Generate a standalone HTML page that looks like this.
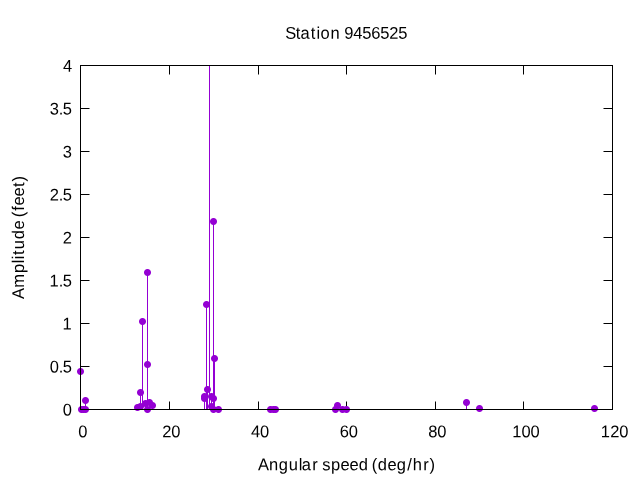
<!DOCTYPE html>
<html lang="en"><head><meta charset="utf-8"><title>Station 9456525</title>
<style>html,body{margin:0;padding:0;background:#fff;}body{width:640px;height:480px;overflow:hidden;}svg{display:block;}text{font-family:"Liberation Sans",sans-serif;font-size:16.5px;fill:#000;}</style></head><body>
<svg width="640" height="480" viewBox="0 0 640 480">
<rect x="0" y="0" width="640" height="480" fill="#ffffff"/>
<path d="M80.5 409.5h9M612.5 409.5h-9M80.5 366.5h9M612.5 366.5h-9M80.5 323.5h9M612.5 323.5h-9M80.5 280.5h9M612.5 280.5h-9M80.5 237.5h9M612.5 237.5h-9M80.5 194.5h9M612.5 194.5h-9M80.5 151.5h9M612.5 151.5h-9M80.5 108.5h9M612.5 108.5h-9M80.5 65.5h9M612.5 65.5h-9M80.5 409.5v-8M80.5 65.5v9M169.5 409.5v-8M169.5 65.5v9M258.5 409.5v-8M258.5 65.5v9M346.5 409.5v-8M346.5 65.5v9M435.5 409.5v-8M435.5 65.5v9M523.5 409.5v-8M523.5 65.5v9M612.5 409.5v-8M612.5 65.5v9" stroke="#000" stroke-width="1" fill="none"/>
<path d="M80.5 409.5V371.5M85.5 409.5V400.5M137.5 409.5V407.5M140.5 409.5V392.5M140.5 409.5V406.5M142.5 409.5V321.5M145.5 409.5V403.5M147.5 409.5V364.5M147.5 409.5V272.5M149.5 409.5V402.5M152.5 409.5V405.5M204.5 409.5V396.5M204.5 409.5V398.5M206.5 409.5V304.5M207.5 409.5V389.5M209.5 409.5V65.5M211.5 409.5V406.5M211.5 409.5V396.5M213.5 409.5V398.5M213.5 409.5V221.5M214.5 409.5V358.5M337.5 409.5V405.5M466.5 409.5V402.5M479.5 409.5V408.5M594.5 409.5V408.5" stroke="#9400d3" stroke-width="1" fill="none"/>
<defs><g id="pt"><rect x="-2" y="-2" width="5" height="1"/><rect x="-2" y="-1" width="5" height="1"/><rect x="-2" y="0" width="5" height="1"/><rect x="-2" y="1" width="5" height="1"/><rect x="-2" y="2" width="5" height="1"/><rect x="-3" y="-2" width="1" height="1" fill-opacity="0.352"/><rect x="-3" y="-1" width="1" height="1" fill-opacity="0.841"/><rect x="-3" y="0" width="1" height="1" fill-opacity="0.988"/><rect x="-3" y="1" width="1" height="1" fill-opacity="0.841"/><rect x="-3" y="2" width="1" height="1" fill-opacity="0.352"/><rect x="-2" y="-3" width="1" height="1" fill-opacity="0.352"/><rect x="-2" y="3" width="1" height="1" fill-opacity="0.352"/><rect x="-1" y="-3" width="1" height="1" fill-opacity="0.841"/><rect x="-1" y="3" width="1" height="1" fill-opacity="0.841"/><rect x="0" y="-3" width="1" height="1" fill-opacity="0.988"/><rect x="0" y="3" width="1" height="1" fill-opacity="0.988"/><rect x="1" y="-3" width="1" height="1" fill-opacity="0.841"/><rect x="1" y="3" width="1" height="1" fill-opacity="0.841"/><rect x="2" y="-3" width="1" height="1" fill-opacity="0.352"/><rect x="2" y="3" width="1" height="1" fill-opacity="0.352"/><rect x="3" y="-2" width="1" height="1" fill-opacity="0.352"/><rect x="3" y="-1" width="1" height="1" fill-opacity="0.841"/><rect x="3" y="0" width="1" height="1" fill-opacity="0.988"/><rect x="3" y="1" width="1" height="1" fill-opacity="0.841"/><rect x="3" y="2" width="1" height="1" fill-opacity="0.352"/></g></defs>
<g fill="#9400d3">
<use href="#pt" x="80" y="371"/>
<use href="#pt" x="81" y="409"/>
<use href="#pt" x="83" y="409"/>
<use href="#pt" x="85" y="409"/>
<use href="#pt" x="85" y="400"/>
<use href="#pt" x="137" y="407"/>
<use href="#pt" x="140" y="392"/>
<use href="#pt" x="140" y="406"/>
<use href="#pt" x="142" y="321"/>
<use href="#pt" x="145" y="403"/>
<use href="#pt" x="147" y="364"/>
<use href="#pt" x="147" y="409"/>
<use href="#pt" x="147" y="272"/>
<use href="#pt" x="149" y="402"/>
<use href="#pt" x="152" y="405"/>
<use href="#pt" x="204" y="396"/>
<use href="#pt" x="204" y="398"/>
<use href="#pt" x="206" y="304"/>
<use href="#pt" x="207" y="389"/>
<use href="#pt" x="211" y="406"/>
<use href="#pt" x="211" y="396"/>
<use href="#pt" x="213" y="398"/>
<use href="#pt" x="213" y="221"/>
<use href="#pt" x="213" y="409"/>
<use href="#pt" x="214" y="358"/>
<use href="#pt" x="218" y="409"/>
<use href="#pt" x="270" y="409"/>
<use href="#pt" x="273" y="409"/>
<use href="#pt" x="275" y="409"/>
<use href="#pt" x="335" y="409"/>
<use href="#pt" x="337" y="405"/>
<use href="#pt" x="342" y="409"/>
<use href="#pt" x="346" y="409"/>
<use href="#pt" x="466" y="402"/>
<use href="#pt" x="479" y="408"/>
<use href="#pt" x="594" y="408"/>
</g>
<rect x="80.5" y="65.5" width="532.0" height="344.0" fill="none" stroke="#000" stroke-width="1"/>
<text transform="translate(346.70,38.80) rotate(0.03) scale(1,1.03)" x="-61.57 -51.02 -46.23 -36.02 -30.26 -26.24 -16.12 -6.50 -2.52 6.55 15.55 24.50 33.55 42.46 51.55">Station 9456525</text>
<text transform="translate(346.50,470.30) rotate(0.03) scale(1,1.03)" x="-88.40 -77.62 -67.72 -57.68 -47.77 -44.73 -34.29 -28.00 -24.18 -15.61 -6.03 2.97 12.28 22.00 25.27 31.28 40.97 50.28 60.68 66.35 76.71 83.04">Angular speed (deg/hr)</text>
<text transform="translate(24.10,237.50) rotate(-89.97) scale(1,1.03)" x="-61.40 -50.36 -35.61 -25.77 -21.76 -17.52 -11.68 -1.72 7.97 17.00 20.27 26.79 31.97 40.97 50.48 56.04">Amplitude (feet)</text>
<text transform="translate(71.80,415.50) rotate(0.03) scale(1,1.03)" x="-9.01">0</text>
<text transform="translate(71.80,372.50) rotate(0.03) scale(1,1.03)" x="-22.01 -13.15 -8.95">0.5</text>
<text transform="translate(71.80,329.50) rotate(0.03) scale(1,1.03)" x="-9.40">1</text>
<text transform="translate(71.80,286.50) rotate(0.03) scale(1,1.03)" x="-22.40 -13.15 -8.95">1.5</text>
<text transform="translate(71.80,243.50) rotate(0.03) scale(1,1.03)" x="-9.04">2</text>
<text transform="translate(71.80,200.50) rotate(0.03) scale(1,1.03)" x="-22.04 -13.15 -8.95">2.5</text>
<text transform="translate(71.80,157.50) rotate(0.03) scale(1,1.03)" x="-9.06">3</text>
<text transform="translate(71.80,114.50) rotate(0.03) scale(1,1.03)" x="-22.06 -13.15 -8.95">3.5</text>
<text transform="translate(72.00,71.65) rotate(0.03) scale(1,1.03)" x="-8.95">4</text>
<text transform="translate(82.70,437.20) rotate(0.03) scale(1,1.03)" x="-4.51">0</text>
<text transform="translate(171.37,437.20) rotate(0.03) scale(1,1.03)" x="-9.04 -0.01">20</text>
<text transform="translate(260.03,437.20) rotate(0.03) scale(1,1.03)" x="-8.95 -0.01">40</text>
<text transform="translate(348.70,437.20) rotate(0.03) scale(1,1.03)" x="-9.00 -0.01">60</text>
<text transform="translate(437.37,437.20) rotate(0.03) scale(1,1.03)" x="-9.02 -0.01">80</text>
<text transform="translate(526.03,437.20) rotate(0.03) scale(1,1.03)" x="-13.90 -4.51 4.49">100</text>
<text transform="translate(614.70,437.20) rotate(0.03) scale(1,1.03)" x="-13.90 -4.54 4.49">120</text>
</svg></body></html>
